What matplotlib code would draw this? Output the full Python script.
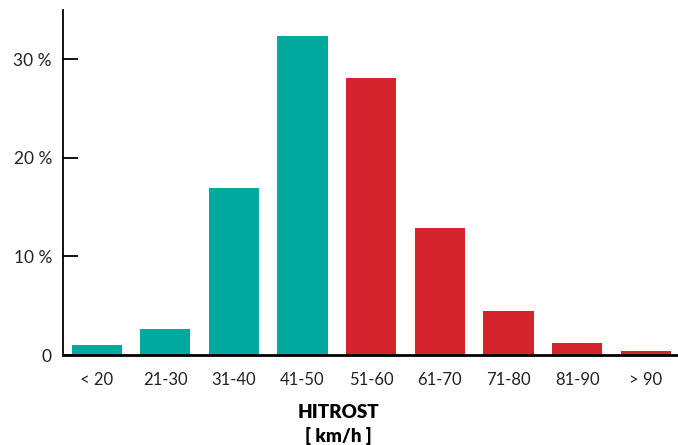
import matplotlib
matplotlib.use("Agg")
import matplotlib.pyplot as plt
import numpy as np

# data
categories = ["< 20", "21-30", "31-40", "41-50", "51-60", "61-70", "71-80", "81-90", "> 90"]
shares = [1.0, 2.6, 16.9, 32.4, 28.1, 12.9, 4.5, 1.2, 0.4]
teal_count = 4

teal = "#00A99D"
red = "#D4232D"

plt.rcParams['font.family'] = ['Lato', 'DejaVu Sans']

fig = plt.figure(figsize=(6.78, 4.45), dpi=100)
ax = fig.add_axes([63 / 678, 90 / 445, 615 / 678, 345 / 445])

x = np.arange(len(categories))
colors = [teal if i < teal_count else red for i in range(len(categories))]
ax.bar(x, shares, width=0.73, color=colors)

ax.set_xlim(-0.49, 8.47)
ax.set_ylim(0, 35)
ax.set_xticks(x)
ax.set_xticklabels(categories, fontsize=12, color="#222222")
ax.set_yticks([0, 10, 20, 30])
ax.set_yticklabels(["0", "10 %", "20 %", "30 %"], fontsize=12.5, color="#222222")

ax.tick_params(axis='x', length=0, pad=12)
ax.tick_params(axis='y', direction='in', length=11, width=1.3, pad=8)

for s in ["top", "right"]:
    ax.spines[s].set_visible(False)
ax.spines["left"].set_linewidth(1.3)
ax.spines["bottom"].set_linewidth(2)

fig.text(338 / 678, 1 - 413 / 445, "HITROST", ha="center", va="center",
         fontsize=13.5, fontweight="heavy")
fig.text(338 / 678, 1 - 436 / 445, "[ km/h ]", ha="center", va="center",
         fontsize=13.5, fontweight="heavy")

fig.savefig("out.png", dpi=100)
